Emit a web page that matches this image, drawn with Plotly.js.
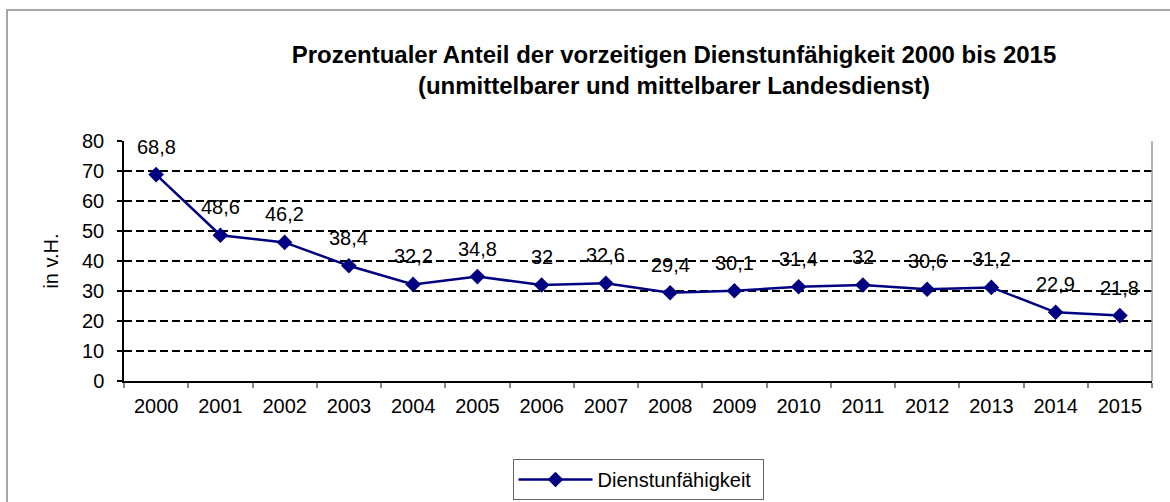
<!DOCTYPE html>
<html>
<head>
<meta charset="utf-8">
<script src="https://cdn.plot.ly/plotly-3.0.1.min.js"></script>
<style>html,body{margin:0;padding:0;background:#fff;overflow:hidden;}#chart{width:1170px;height:502px;}</style>
</head>
<body>
<div id="chart"></div>
<script>
const years = ["2000","2001","2002","2003","2004","2005","2006","2007","2008","2009","2010","2011","2012","2013","2014","2015"];
const values = [68.8, 48.6, 46.2, 38.4, 32.2, 34.8, 32, 32.6, 29.4, 30.1, 31.4, 32, 30.6, 31.2, 22.9, 21.8];
const seriesName = "Dienstunfähigkeit";
const yTicks = [0,10,20,30,40,50,60,70,80];

const FONT = "Arial, 'Liberation Sans', sans-serif";
const navy = "#000080";

const trace = {
  x: years, y: values, type: "scatter", mode: "lines+markers", name: seriesName,
  line: {color: navy, width: 2.5},
  marker: {symbol: "diamond", size: 12, color: navy},
  hoverinfo: "x+y"
};

const labels = years.map((yr, i) => ({
  x: i, y: values[i], xref: "x", yref: "y",
  text: String(values[i]).replace(".", ","),
  showarrow: false, yshift: 28,
  font: {family: FONT, size: 20, color: "#000"}
}));

const layout = {
  width: 1170, height: 502,
  margin: {l: 124, r: 18, t: 141, b: 121, autoexpand: false},
  paper_bgcolor: "#fff", plot_bgcolor: "#fff",
  font: {family: FONT, size: 20, color: "#000"},
  title: {
    text: "<b>Prozentualer Anteil der vorzeitigen Dienstunfähigkeit 2000 bis 2015<br>(unmittelbarer und mittelbarer Landesdienst)</b>",
    font: {family: FONT, size: 24, color: "#000"},
    x: 0.535, xref: "paper", xanchor: "center",
    y: 1 - 63/502, yref: "container", yanchor: "top"
  },
  xaxis: {
    type: "category", range: [-0.5, 15.5], automargin: false,
    showline: true, linecolor: "#000", linewidth: 1.5,
    ticks: "outside", tickson: "boundaries", ticklen: 5, tickcolor: "#888", tickwidth: 1.5,
    showgrid: false, zeroline: false,
    tickfont: {family: FONT, size: 20, color: "#000"},
    ticklabelstandoff: 6, fixedrange: true
  },
  yaxis: {
    range: [0, 80], tickvals: yTicks, ticktext: yTicks.map(String), automargin: false,
    showline: true, linecolor: "#000", linewidth: 1.5,
    ticks: "outside", ticklen: 5, tickcolor: "#000", tickwidth: 1.5,
    showgrid: true, gridcolor: "#000", gridwidth: 2, griddash: "8px,4px",
    zeroline: false,
    tickfont: {family: FONT, size: 20, color: "#000"},
    ticklabelstandoff: 9,
    title: {text: "in v.H.", font: {family: FONT, size: 20, color: "#000"}, standoff: 18},
    fixedrange: true
  },
  showlegend: true,
  legend: {
    x: 0.5, xanchor: "center", y: -0.325, yanchor: "top", orientation: "h",
    bordercolor: "#666", borderwidth: 1, bgcolor: "#fff",
    itemwidth: 74, entrywidth: 160,
    font: {family: FONT, size: 20, color: "#000"}
  },
  annotations: labels,
  shapes: [
    {type: "line", xref: "paper", yref: "paper", x0: 1, x1: 1, y0: 0, y1: 1,
     line: {color: "#999", width: 1.5}, layer: "above"},
    {type: "rect", xref: "paper", yref: "paper",
     x0: (7 - 124) / 1028, x1: 1.2, y0: -0.8, y1: (381 - 10) / 240,
     line: {color: "#8a8a8a", width: 1.5}, fillcolor: "rgba(0,0,0,0)", layer: "below"}
  ]
};

Plotly.newPlot("chart", [trace], layout, {displayModeBar: false});
</script>
</body>
</html>
